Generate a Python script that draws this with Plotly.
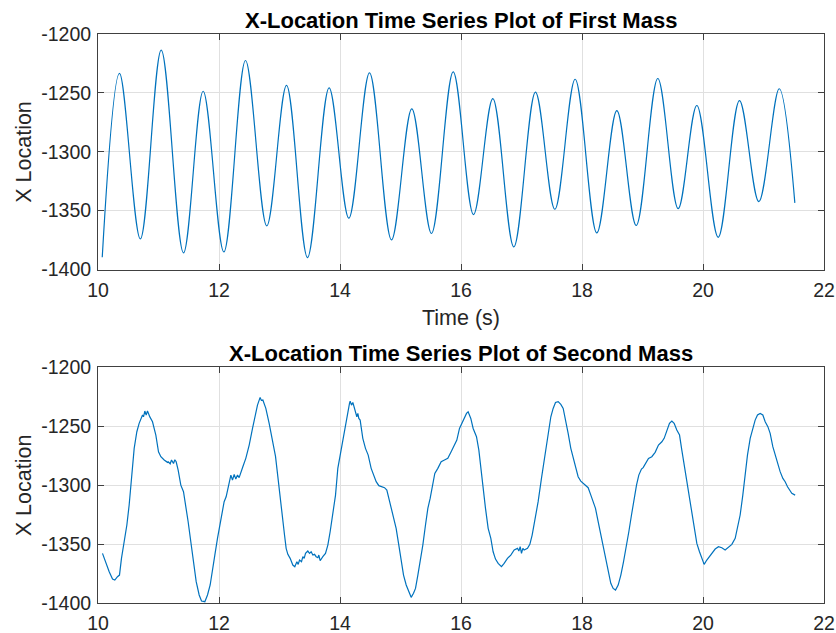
import plotly.graph_objects as go

# ---------------- data ----------------
# First mass: successive turning points of the oscillation (time s, x location)
t1 = [10.07, 10.355, 10.70, 11.045, 11.413, 11.738, 12.08, 12.438, 12.79, 13.116,
      13.463, 13.82, 14.146, 14.488, 14.851, 15.187, 15.512, 15.871, 16.207, 16.526,
      16.873, 17.231, 17.551, 17.887, 18.245, 18.576, 18.896, 19.253, 19.59, 19.898,
      20.251, 20.603, 20.923, 21.26, 21.518]
x1 = [-1389.6, -1233.5, -1374.0, -1213.7, -1385.8, -1248.6, -1385.0, -1222.5, -1362.9, -1243.7,
      -1389.8, -1245.7, -1356.4, -1233.0, -1374.8, -1263.5, -1369.4, -1232.1, -1353.3, -1254.8,
      -1380.7, -1249.4, -1348.8, -1238.4, -1368.9, -1265.0, -1362.6, -1237.8, -1348.2, -1260.7,
      -1372.6, -1256.5, -1342.3, -1246.5, -1343.4]

# Second mass: points
t2 = [10.074, 10.129, 10.185, 10.240, 10.278, 10.322, 10.355, 10.388, 10.433, 10.477,
      10.515, 10.554, 10.598, 10.642, 10.680, 10.736, 10.752, 10.774, 10.796, 10.818,
      10.840, 10.857, 10.901, 10.956, 11.000, 11.039, 11.094, 11.149, 11.160, 11.193,
      11.215, 11.248, 11.270, 11.292, 11.325, 11.369, 11.413, 11.452, 11.490, 11.534,
      11.579, 11.623, 11.672, 11.711, 11.766, 11.810, 11.854, 11.893, 11.931, 11.975,
      12.030, 12.085, 12.118, 12.168, 12.196, 12.223, 12.251, 12.278, 12.306, 12.333,
      12.361, 12.394, 12.443, 12.499, 12.554, 12.592, 12.636, 12.680, 12.700, 12.725,
      12.774, 12.829, 12.884, 12.934, 12.972, 13.000, 13.028, 13.055, 13.083, 13.110,
      13.138, 13.176, 13.220, 13.253, 13.287, 13.309, 13.331, 13.364, 13.386, 13.408,
      13.430, 13.468, 13.496, 13.523, 13.551, 13.579, 13.606, 13.634, 13.650, 13.672,
      13.694, 13.716, 13.760, 13.799, 13.837, 13.882, 13.926, 13.964, 14.003, 14.047,
      14.091, 14.129, 14.157, 14.168, 14.190, 14.212, 14.240, 14.256, 14.278, 14.295,
      14.311, 14.333, 14.377, 14.421, 14.466, 14.515, 14.554, 14.598, 14.642, 14.680,
      14.736, 14.774, 14.818, 14.873, 14.928, 14.972, 15.011, 15.050, 15.094, 15.138,
      15.176, 15.215, 15.248, 15.287, 15.325, 15.369, 15.413, 15.452, 15.490, 15.534,
      15.567, 15.617, 15.672, 15.727, 15.782, 15.837, 15.893, 15.931, 15.975, 16.003,
      16.052, 16.091, 16.118, 16.162, 16.201, 16.256, 16.295, 16.328, 16.366, 16.405,
      16.449, 16.493, 16.531, 16.570, 16.614, 16.669, 16.713, 16.768, 16.823, 16.879,
      16.934, 16.956, 16.978, 17.000, 17.022, 17.044, 17.099, 17.138, 17.176, 17.220,
      17.275, 17.330, 17.374, 17.413, 17.452, 17.485, 17.523, 17.562, 17.606, 17.650,
      17.689, 17.727, 17.771, 17.815, 17.854, 17.892, 17.936, 17.980, 18.025, 18.058,
      18.102, 18.146, 18.184, 18.223, 18.267, 18.311, 18.350, 18.388, 18.432, 18.476,
      18.515, 18.554, 18.598, 18.642, 18.686, 18.730, 18.774, 18.818, 18.862, 18.901,
      18.939, 18.983, 19.011, 19.061, 19.099, 19.154, 19.209, 19.264, 19.320, 19.358,
      19.402, 19.446, 19.485, 19.523, 19.567, 19.612, 19.650, 19.689, 19.733, 19.777,
      19.821, 19.865, 19.898, 19.942, 19.981, 20.019, 20.063, 20.107, 20.152, 20.201,
      20.256, 20.311, 20.366, 20.421, 20.477, 20.532, 20.570, 20.614, 20.658, 20.697,
      20.735, 20.780, 20.824, 20.862, 20.901, 20.945, 20.989, 21.028, 21.072, 21.110,
      21.154, 21.193, 21.231, 21.275, 21.320, 21.358, 21.397, 21.441, 21.468, 21.523]
x2 = [-1357.9, -1366.4, -1373.4, -1379.7, -1380.5, -1377.7, -1376.3, -1362.1, -1348.0, -1333.8,
      -1316.8, -1294.2, -1268.7, -1254.6, -1247.5, -1240.4, -1241.9, -1237.0, -1240.4, -1237.0,
      -1240.4, -1242.0, -1246.1, -1257.4, -1271.6, -1275.8, -1278.6, -1280.6, -1280.1, -1281.8,
      -1278.6, -1281.5, -1278.4, -1280.1, -1287.1, -1299.9, -1305.5, -1316.8, -1331.0, -1348.0,
      -1364.9, -1381.9, -1393.2, -1398.3, -1398.9, -1393.2, -1384.7, -1373.4, -1359.3, -1345.1,
      -1328.2, -1314.0, -1309.8, -1297.0, -1291.4, -1295.6, -1290.8, -1294.8, -1291.4, -1293.6,
      -1288.6, -1284.3, -1277.2, -1265.9, -1251.8, -1243.3, -1232.0, -1225.4, -1228.0, -1227.7,
      -1234.8, -1247.5, -1261.5, -1275.5, -1292.5, -1306.6, -1319.7, -1331.0, -1342.3, -1353.6,
      -1358.7, -1362.1, -1367.8, -1369.2, -1365.0, -1367.2, -1363.5, -1365.0, -1360.7, -1362.1,
      -1357.9, -1355.9, -1357.9, -1356.5, -1359.3, -1358.7, -1360.7, -1361.5, -1359.3, -1364.1,
      -1362.1, -1360.7, -1357.9, -1350.8, -1339.5, -1325.3, -1308.4, -1285.7, -1274.4, -1258.8,
      -1248.9, -1237.6, -1230.5, -1228.6, -1232.0, -1229.7, -1234.8, -1237.6, -1241.9, -1239.0,
      -1243.3, -1244.7, -1260.2, -1268.7, -1274.4, -1285.7, -1291.4, -1297.0, -1300.4, -1301.3,
      -1302.1, -1304.1, -1314.0, -1323.9, -1336.6, -1350.8, -1365.0, -1376.3, -1384.7, -1390.4,
      -1395.2, -1391.8, -1387.6, -1376.3, -1365.0, -1350.8, -1333.8, -1319.7, -1311.2, -1297.0,
      -1290.0, -1285.7, -1280.1, -1278.6, -1277.2, -1271.6, -1265.9, -1261.7, -1251.8, -1248.4,
      -1242.7, -1239.0, -1237.6, -1243.3, -1251.8, -1258.8, -1270.2, -1285.7, -1302.7, -1319.7,
      -1336.6, -1345.1, -1356.5, -1362.7, -1366.4, -1369.2, -1366.4, -1362.1, -1359.3, -1355.0,
      -1353.6, -1355.9, -1352.2, -1357.9, -1353.6, -1355.0, -1353.6, -1350.2, -1342.3, -1331.0,
      -1314.0, -1294.2, -1278.6, -1265.9, -1254.6, -1241.9, -1234.8, -1229.7, -1229.1, -1231.4,
      -1234.8, -1243.3, -1256.0, -1268.7, -1277.2, -1285.7, -1292.8, -1296.5, -1298.4, -1299.9,
      -1302.1, -1308.4, -1314.0, -1319.7, -1331.0, -1342.3, -1350.8, -1362.1, -1373.4, -1383.3,
      -1387.6, -1389.0, -1384.8, -1376.3, -1365.0, -1353.6, -1339.5, -1325.3, -1311.2, -1299.9,
      -1291.4, -1286.3, -1285.1, -1280.1, -1277.2, -1275.8, -1272.1, -1265.9, -1263.1, -1260.2,
      -1253.2, -1247.5, -1245.5, -1247.5, -1253.2, -1257.4, -1270.2, -1282.9, -1297.0, -1314.0,
      -1328.2, -1342.3, -1349.4, -1356.5, -1362.1, -1367.2, -1363.5, -1360.7, -1357.0, -1354.2,
      -1352.2, -1353.1, -1355.0, -1352.2, -1350.2, -1345.1, -1336.6, -1325.3, -1308.4, -1288.5,
      -1274.4, -1260.2, -1251.8, -1244.7, -1240.4, -1239.0, -1240.4, -1246.1, -1250.3, -1256.0,
      -1267.3, -1274.4, -1281.5, -1288.5, -1294.2, -1297.0, -1301.3, -1305.5, -1306.9, -1308.4]

x_ticks = [10, 12, 14, 16, 18, 20, 22]
y_ticks = [-1400, -1350, -1300, -1250, -1200]
title1 = "X-Location Time Series Plot of First Mass"
title2 = "X-Location Time Series Plot of Second Mass"
xlabel = "Time (s)"
ylabel = "X Location"

# ---------------- styling ----------------
FONT = "Liberation Sans, Arial, sans-serif"
LINE_C = "#0072BD"
AX_C = "#404040"
GRID_C = "#e0e0e0"
TXT_C = "#262626"

fig = go.Figure()
fig.add_trace(go.Scatter(x=t1, y=x1, mode="lines", line=dict(color=LINE_C, width=1.2, shape="spline"),
                         xaxis="x", yaxis="y", showlegend=False, hoverinfo="skip"))
fig.add_trace(go.Scatter(x=t2, y=x2, mode="lines", line=dict(color=LINE_C, width=1.2),
                         xaxis="x2", yaxis="y2", showlegend=False, hoverinfo="skip"))

def xax(anchor):
    return dict(range=[10, 22], tickvals=x_ticks, ticktext=[str(v) for v in x_ticks],
                showgrid=True, gridcolor=GRID_C, gridwidth=1, zeroline=False,
                showline=True, linecolor=AX_C, linewidth=1, mirror="ticks",
                ticks="inside", ticklen=6, tickcolor=AX_C, tickwidth=1,
                tickfont=dict(family=FONT, size=19.5, color=TXT_C),
                ticklabelstandoff=3, automargin=False, anchor=anchor, domain=[0, 1])

def yax(anchor, dom):
    return dict(range=[-1400, -1200], tickvals=y_ticks, ticktext=[str(v) for v in y_ticks],
                showgrid=True, gridcolor=GRID_C, gridwidth=1, zeroline=False,
                showline=True, linecolor=AX_C, linewidth=1, mirror="ticks",
                ticks="inside", ticklen=6, tickcolor=AX_C, tickwidth=1,
                tickfont=dict(family=FONT, size=19.5, color=TXT_C),
                ticklabelstandoff=2, automargin=False, anchor=anchor, domain=dom)

fig.update_layout(
    width=836, height=633,
    margin=dict(l=98, r=12, t=34, b=30, pad=0, autoexpand=False),
    paper_bgcolor="white", plot_bgcolor="white",
    xaxis=xax("y"), yaxis=yax("x", [0.586, 1.0]),
    xaxis2=xax("y2"), yaxis2=yax("x2", [0.0, 0.414]),
    font=dict(family=FONT, color=TXT_C),
    hovermode=False,
)

ann = []
for xr, yr, ttl in (("x", "y", title1), ("x2", "y2", title2)):
    ann.append(dict(text="<b>%s</b>" % ttl, xref=xr + " domain", yref=yr + " domain", x=0.5, y=1,
                    xanchor="center", yanchor="bottom", yshift=-1, showarrow=False,
                    font=dict(family=FONT, size=22, color="black")))
ann.append(dict(text=xlabel, xref="x domain", yref="y domain", x=0.5, y=0,
                xanchor="center", yanchor="middle", yshift=-48, showarrow=False,
                font=dict(family=FONT, size=21.5, color=TXT_C)))
for ya in ("y", "y2"):
    ann.append(dict(text=ylabel, xref="x domain", yref=ya + " domain", x=0, y=0.5,
                    xanchor="center", yanchor="middle", xshift=-74, textangle=-90, showarrow=False,
                    font=dict(family=FONT, size=21.5, color=TXT_C)))
fig.update_layout(annotations=ann)

# remove the default page margin so the 836x633 figure fills the window exactly
fig.write_html("out.html",
               config={"displayModeBar": False, "staticPlot": True},
               post_script="document.body.style.margin='0';document.body.style.overflow='hidden';")
